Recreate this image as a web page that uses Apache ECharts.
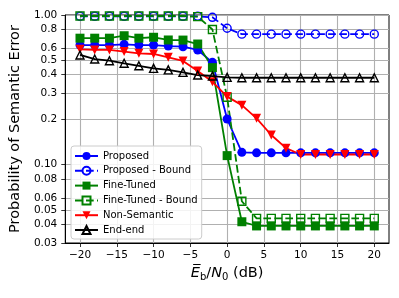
<!DOCTYPE html>
<html><head><meta charset="utf-8">
<script src="https://cdn.jsdelivr.net/npm/echarts@6/dist/echarts.min.js"></script>
<style>html,body{margin:0;padding:0;background:#fff}#c{width:399px;height:298px}</style>
</head><body><div id="c"></div>
<script>
const snr = [-20,-18,-16,-14,-12,-10,-8,-6,-4,-2,0,2,4,6,8,10,12,14,16,18,20];
const proposed = [0.63,0.63,0.63,0.637,0.63,0.63,0.62,0.614,0.584,0.483,0.202,0.121,0.12,0.12,0.12,0.12,0.12,0.12,0.12,0.12,0.12];
const proposedBound = [0.98,0.98,0.98,0.98,0.98,0.98,0.98,0.98,0.98,0.965,0.815,0.745,0.745,0.745,0.745,0.745,0.745,0.745,0.745,0.745,0.745];
const fineTuned = [0.70,0.70,0.70,0.727,0.70,0.71,0.681,0.68,0.64,0.445,0.115,0.0416,0.039,0.039,0.039,0.039,0.039,0.039,0.039,0.039,0.039];
const fineTunedBound = [0.985,0.985,0.985,0.985,0.985,0.985,0.985,0.985,0.975,0.80,0.282,0.057,0.0438,0.0438,0.0438,0.0438,0.0438,0.0438,0.0438,0.0438,0.0438];
const nonSemantic = [0.59,0.584,0.584,0.57,0.555,0.549,0.522,0.493,0.423,0.358,0.285,0.25,0.204,0.158,0.129,0.117,0.117,0.117,0.117,0.117,0.117];
const endEnd = [0.541,0.508,0.495,0.476,0.458,0.44,0.43,0.414,0.397,0.391,0.383,0.381,0.381,0.381,0.381,0.381,0.381,0.381,0.381,0.381,0.381];

const xTicks = [-20,-15,-10,-5,0,5,10,15,20];
const yTickValues = [0.03,0.04,0.05,0.06,0.08,0.1,0.2,0.3,0.4,0.5,0.6,0.8,1.0];
const yTickLabels = ['0.03','0.04','0.05','0.06','0.08','0.10','0.2','0.3','0.4','0.5','0.6','0.8','1.00'];
const seriesNames = ['Proposed','Proposed - Bound','Fine-Tuned','Fine-Tuned - Bound','Non-Semantic','End-end'];

const FONT = 'DejaVu Sans';
const yLog = yTickValues.map(v => Math.log10(v));
const DASH = [7.7, 3.3];

function mk(name, vals, color, symbol, filled, dashed, rotate) {
  return {
    name: name,
    type: 'line',
    data: snr.map((x, i) => [x, Math.log10(vals[i])]),
    symbol: symbol,
    symbolSize: filled ? 9 : 8,
    symbolRotate: rotate || 0,
    showAllSymbol: true,
    clip: false,
    lineStyle: { color: color, width: 1.8, type: dashed ? DASH : 'solid' },
    itemStyle: filled ? { color: color, borderColor: color, borderWidth: 0 }
                      : { color: 'rgba(0,0,0,0)', borderColor: color, borderWidth: 1.4 },
    emphasis: { disabled: true },
    animation: false
  };
}

const chart = echarts.init(document.getElementById('c'), null, { renderer: 'canvas' });
chart.setOption({
  animation: false,
  backgroundColor: '#ffffff',
  grid: { left: 65, right: 10, top: 15, bottom: 55, show: true, borderColor: '#000', borderWidth: 1, backgroundColor: 'transparent' },
  xAxis: {
    type: 'value', min: -22, max: 22,
    name: '{it|E\u0305}{sub|b}{n|/}{it|N}{sub|0}{n| (dB)}',
    nameLocation: 'middle', nameGap: 17,
    nameTextStyle: {
      fontFamily: FONT, fontSize: 14.5, color: '#000',
      rich: {
        it: { fontFamily: FONT, fontSize: 14.5, fontStyle: 'italic', color: '#000', lineHeight: 17, verticalAlign: 'top' },
        n: { fontFamily: FONT, fontSize: 14.5, color: '#000', lineHeight: 17, verticalAlign: 'top' },
        sub: { fontFamily: FONT, fontSize: 10, color: '#000', lineHeight: 10, verticalAlign: 'bottom' }
      }
    },
    axisLine: { show: true, onZero: false, lineStyle: { color: '#000', width: 1 } },
    axisTick: { show: true, length: 4, customValues: xTicks, lineStyle: { color: '#000', width: 0.8 } },
    axisLabel: { customValues: xTicks, margin: 7, fontFamily: FONT, fontSize: 10.5, color: '#000',
      formatter: v => String(v).replace('-', '\u2212') },
    splitLine: { show: true, lineStyle: { color: '#b0b0b0', width: 1.1 } }
  },
  yAxis: {
    type: 'value', min: Math.log10(0.03), max: 0,
    name: 'Probability of Semantic Error',
    nameLocation: 'middle', nameGap: 40, nameRotate: 90,
    nameTextStyle: { fontFamily: FONT, fontSize: 14.5, color: '#000' },
    axisLine: { show: true, onZero: false, lineStyle: { color: '#000', width: 1 } },
    axisTick: { show: true, length: 4, customValues: yLog, lineStyle: { color: '#000', width: 0.8 } },
    axisLabel: { customValues: yLog, margin: 8, fontFamily: FONT, fontSize: 10.5, color: '#000',
      formatter: v => {
        let best = 0, d = 1e9;
        yLog.forEach((t, i) => { const dd = Math.abs(t - v); if (dd < d) { d = dd; best = i; } });
        return yTickLabels[best];
      } },
    splitLine: { show: true, lineStyle: { color: '#b0b0b0', width: 1.1 } }
  },
  legend: {
    data: seriesNames,
    orient: 'vertical', left: 71, top: 146,
    padding: [4, 4, 3, 3],
    itemWidth: 23, itemHeight: 10, itemGap: 2.8,
    backgroundColor: 'rgba(255,255,255,0.85)',
    borderColor: '#cccccc', borderWidth: 1, borderRadius: 3,
    textStyle: { fontFamily: FONT, fontSize: 10, color: '#000', lineHeight: 12 },
    selectedMode: false
  },
  series: [
    mk(seriesNames[0], proposed, '#0000ff', 'circle', true, false),
    mk(seriesNames[1], proposedBound, '#0000ff', 'circle', false, true),
    mk(seriesNames[2], fineTuned, '#008000', 'rect', true, false),
    mk(seriesNames[3], fineTunedBound, '#008000', 'rect', false, true),
    mk(seriesNames[4], nonSemantic, '#ff0000', 'triangle', true, false, 180),
    mk(seriesNames[5], endEnd, '#000000', 'triangle', false, false)
  ]
});
</script></body></html>
